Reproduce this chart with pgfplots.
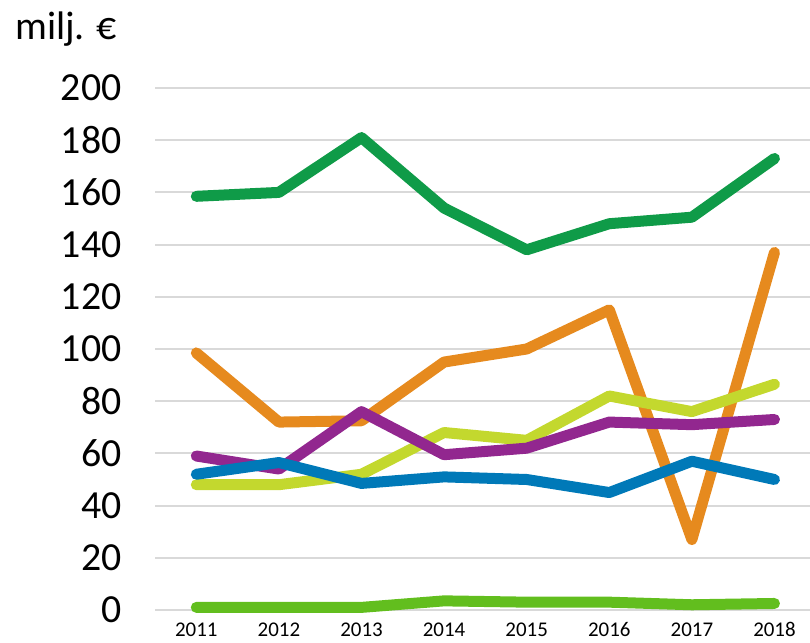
\documentclass[border=0pt]{standalone}
\usepackage{fontspec}
\setmainfont{Carlito}
\usepackage{pgfplots}
\pgfplotsset{compat=1.18}
\definecolor{dgreen}{HTML}{0F9B48}
\definecolor{orng}{HTML}{E68A1E}
\definecolor{purp}{HTML}{92278F}
\definecolor{lime}{HTML}{C3D82E}
\definecolor{blu}{HTML}{0079B8}
\definecolor{bgreen}{HTML}{62BE1E}
\definecolor{gridc}{HTML}{D9D9D9}
\begin{document}
\begin{tikzpicture}[x=1bp,y=1bp]
\useasboundingbox (0,0) rectangle (810bp,643bp);
\begin{axis}[
  at={(155bp,33bp)}, anchor=south west,
  scale only axis,
  width=655bp, height=522bp,
  xmin=-0.5, xmax=7.43,
  ymin=0, ymax=200,
  xtick={0,...,7},
  xticklabels={2011,2012,2013,2014,2015,2016,2017,2018},
  ytick={0,20,...,200},
  axis line style={draw=none},
  tick style={draw=none},
  ymajorgrids,
  grid style={gridc, line width=2bp},
  /pgf/number format/assume math mode=true,
  yticklabel style={font=\fontsize{40}{48}\selectfont, anchor=east, xshift=-30bp},
  xticklabel style={font=\fontsize{21}{25}\selectfont, anchor=north, text height=14bp, text depth=0pt, yshift=-9bp},
  clip=false,
  every axis plot/.append style={line width=11bp, line join=round, line cap=round, no markers},
]
\addplot[dgreen] coordinates {(0,158.5)(1,160)(2,181)(3,154)(4,138)(5,148)(6,150.5)(7,173)};
\addplot[orng] coordinates {(0,98.5)(1,72)(2,72.5)(3,95)(4,100)(5,115)(6,27)(7,137)};
\addplot[lime] coordinates {(0,48)(1,48)(2,52)(3,68)(4,65)(5,82)(6,76)(7,86.5)};
\addplot[purp] coordinates {(0,59)(1,54)(2,76)(3,59.5)(4,62)(5,72)(6,71)(7,73)};
\addplot[blu] coordinates {(0,52)(1,56.5)(2,48.5)(3,51)(4,50)(5,45)(6,57)(7,50)};
\addplot[bgreen] coordinates {(0,1)(1,1)(2,1)(3,3.5)(4,3)(5,3)(6,2)(7,2.5)};
\node[anchor=base west, font=\fontsize{40}{48}\selectfont, inner sep=0pt] at (rel axis cs:0,1) [xshift=-140bp, yshift=48bp] {milj. €};
\end{axis}
\end{tikzpicture}
\end{document}
